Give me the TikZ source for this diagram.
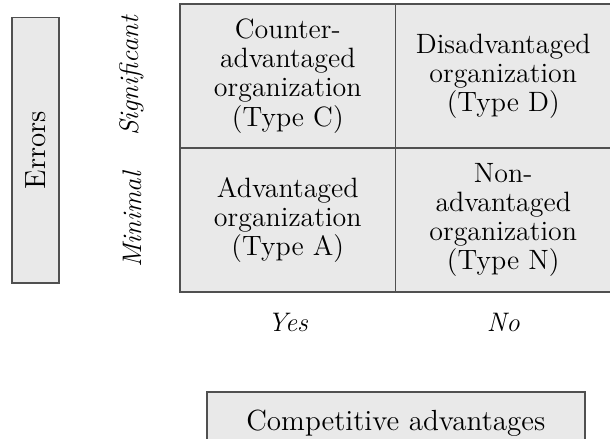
\documentclass[tikz,border=0pt]{standalone}
\usetikzlibrary{positioning}
\definecolor{boxfill}{RGB}{233,233,233}
\definecolor{boxline}{RGB}{80,80,80}
\tikzset{
  basic/.style  = {draw=boxline, fill=boxfill, line width=0.6pt, outer sep=0pt, inner sep=0pt},
  cell/.style   = {basic, minimum width=3.25cm, minimum height=2.17cm, align=center,
                   font=\fontsize{12}{12.5}\selectfont},
  axis/.style   = {basic, font=\fontsize{12.5}{15}\selectfont},
  level/.style  = {font=\fontsize{11.5}{13}\selectfont\itshape}
}

\begin{document}
\begin{tikzpicture}
\useasboundingbox (0,0) rectangle (9.2,6.606);

% the four types
\node[cell] (cC) at (4.34,5.46) {Counter-\\advantaged\\organization\\(Type C)};
\node[cell, right=0pt of cC] (cD) {Disadvantaged\\organization\\(Type D)};
\node[cell, below=0pt of cC] (cA) {Advantaged\\organization\\(Type A)};
\node[cell, below=0pt of cD] (cN) {Non-\\advantaged\\organization\\(Type N)};

% errors axis
\node[axis, rotate=90, minimum width=4.0cm, minimum height=0.71cm] (err) at (0.535,4.34) {Errors};
\node[level, rotate=90] (sig) at (1.99,0 |- cC) {Significant};
\node[level, rotate=90] (min) at (1.99,0 |- cA) {Minimal};

% advantages axis
\node[level] (yes) at (cA |- 0,1.735) {Yes};
\node[level] (no) at (cN |- 0,1.735) {No};
\node[axis, minimum width=5.70cm, minimum height=0.935cm] (comp) at (5.97,0.227) {Competitive advantages};
\end{tikzpicture}
\end{document}
